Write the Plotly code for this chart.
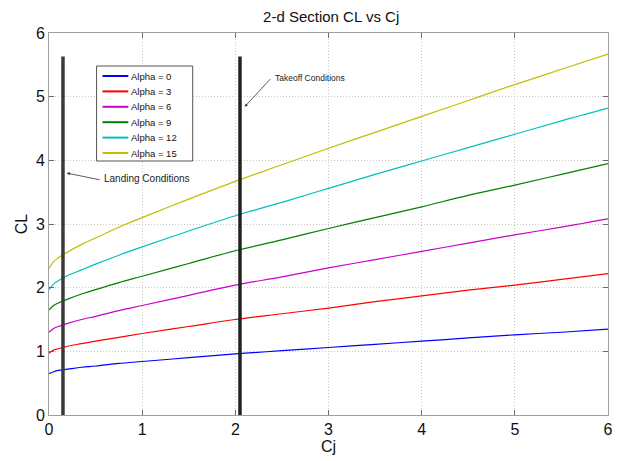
import plotly.graph_objects as go

cj = [0, 0.05, 0.1, 0.2, 0.35, 0.5, 0.75, 1, 1.5, 2, 2.5, 3, 3.5, 4, 4.5, 5, 5.5, 6]
alpha0 = [0.65, 0.68, 0.70, 0.72, 0.75, 0.77, 0.81, 0.84, 0.90, 0.96, 1.01, 1.06, 1.11, 1.16, 1.21, 1.26, 1.30, 1.35]
alpha3 = [0.97, 1.02, 1.04, 1.08, 1.12, 1.16, 1.22, 1.28, 1.39, 1.50, 1.59, 1.68, 1.78, 1.87, 1.96, 2.04, 2.13, 2.22]
alpha6 = [1.30, 1.36, 1.39, 1.44, 1.50, 1.55, 1.64, 1.72, 1.88, 2.04, 2.17, 2.31, 2.44, 2.57, 2.70, 2.83, 2.95, 3.08]
alpha9 = [1.65, 1.72, 1.76, 1.82, 1.90, 1.97, 2.08, 2.18, 2.38, 2.58, 2.75, 2.93, 3.10, 3.27, 3.45, 3.61, 3.78, 3.95]
alpha12 = [1.97, 2.06, 2.11, 2.19, 2.28, 2.37, 2.51, 2.64, 2.89, 3.13, 3.34, 3.56, 3.78, 3.99, 4.20, 4.41, 4.62, 4.82]
alpha15 = [2.30, 2.41, 2.47, 2.56, 2.68, 2.78, 2.95, 3.10, 3.39, 3.67, 3.93, 4.19, 4.44, 4.69, 4.94, 5.19, 5.43, 5.67]

series_names = ["Alpha = 0", "Alpha = 3", "Alpha = 6", "Alpha = 9", "Alpha = 12", "Alpha = 15"]
series_colors = ["#0000ff", "#ff0000", "#cc00cc", "#008000", "#00bfbf", "#bfbf00"]
series_values = [alpha0, alpha3, alpha6, alpha9, alpha12, alpha15]

landing_x = [0.15, 0.15]
takeoff_x = [2.05, 2.05]
vline_y = [0, 5.63]

W, H = 619, 461
ML, MR, MT, MB = 49, 6, 33, 46
PW, PH = W - ML - MR, H - MT - MB


def px(x):
    return (x - ML) / PW


def py(y):
    return (H - MB - y) / PH


fig = go.Figure()
for name, ys, col in zip(series_names, series_values, series_colors):
    fig.add_trace(go.Scatter(x=cj, y=ys, mode="lines", name=name, showlegend=False,
                             line=dict(color=col, width=1.2, shape="spline")))
fig.add_trace(go.Scatter(x=landing_x, y=vline_y, mode="lines", showlegend=False,
                         line=dict(color="#3a3a3a", width=3.5)))
fig.add_trace(go.Scatter(x=takeoff_x, y=vline_y, mode="lines", showlegend=False,
                         line=dict(color="#222222", width=3.5)))

fig.add_annotation(x=0.19, y=3.8, ax=0.56, ay=3.69, axref="x", ayref="y",
                   text="", showarrow=True, arrowhead=2, arrowsize=0.8, arrowwidth=0.8, arrowcolor="#333")
fig.add_annotation(x=0.57, y=3.71, text="Landing Conditions", showarrow=False, xanchor="left",
                   font=dict(size=10, color="#222", family="Liberation Sans"))
fig.add_annotation(x=2.1, y=4.84, ax=2.39, ay=5.3, axref="x", ayref="y",
                   text="", showarrow=True, arrowhead=2, arrowsize=0.8, arrowwidth=0.8, arrowcolor="#333")
fig.add_annotation(x=2.4, y=5.3, text="Takeoff Conditions", showarrow=False, xanchor="left",
                   font=dict(size=8.5, color="#222", family="Liberation Sans"))

# compact legend box drawn as shapes + text
fig.add_shape(type="rect", xref="paper", yref="paper", x0=px(97), x1=px(194), y0=py(161), y1=py(66),
              line=dict(color="#555", width=1), fillcolor="white", layer="above")
for i, (name, col) in enumerate(zip(series_names, series_colors)):
    yc = 76 + i * 15.4
    fig.add_shape(type="line", xref="paper", yref="paper", x0=px(103), x1=px(129), y0=py(yc), y1=py(yc),
                  line=dict(color=col, width=2), layer="above")
    fig.add_annotation(xref="paper", yref="paper", x=px(130), y=py(yc), text=name, showarrow=False,
                       xanchor="left", yanchor="middle", font=dict(size=9.5, color="#111"))

axis_common = dict(showline=True, linecolor="#a0a0a0", linewidth=1, mirror="ticks",
                   ticks="inside", ticklen=5, tickcolor="#666",
                   showgrid=True, gridcolor="#c8c8c8", griddash="1px,2px", gridwidth=1,
                   zeroline=False, tickfont=dict(size=16, color="#111"))
fig.update_xaxes(range=[0, 6], dtick=1, title=dict(text="Cj", font=dict(size=16, color="#111"), standoff=0),
                 **axis_common)
fig.update_yaxes(range=[0, 6], dtick=1, title=dict(text="CL", font=dict(size=16, color="#111"), standoff=4),
                 **axis_common)

fig.update_layout(
    width=W, height=H,
    margin=dict(l=ML, r=MR, t=MT, b=MB),
    paper_bgcolor="white", plot_bgcolor="white",
    font=dict(family="Liberation Sans, Arial, sans-serif", color="#111"),
    title=dict(text="2-d Section CL vs Cj", x=0.535, xanchor="center", y=0.975, yanchor="top",
               font=dict(size=15, color="#111")),
    showlegend=False,
)

fig.write_html("out.html")
